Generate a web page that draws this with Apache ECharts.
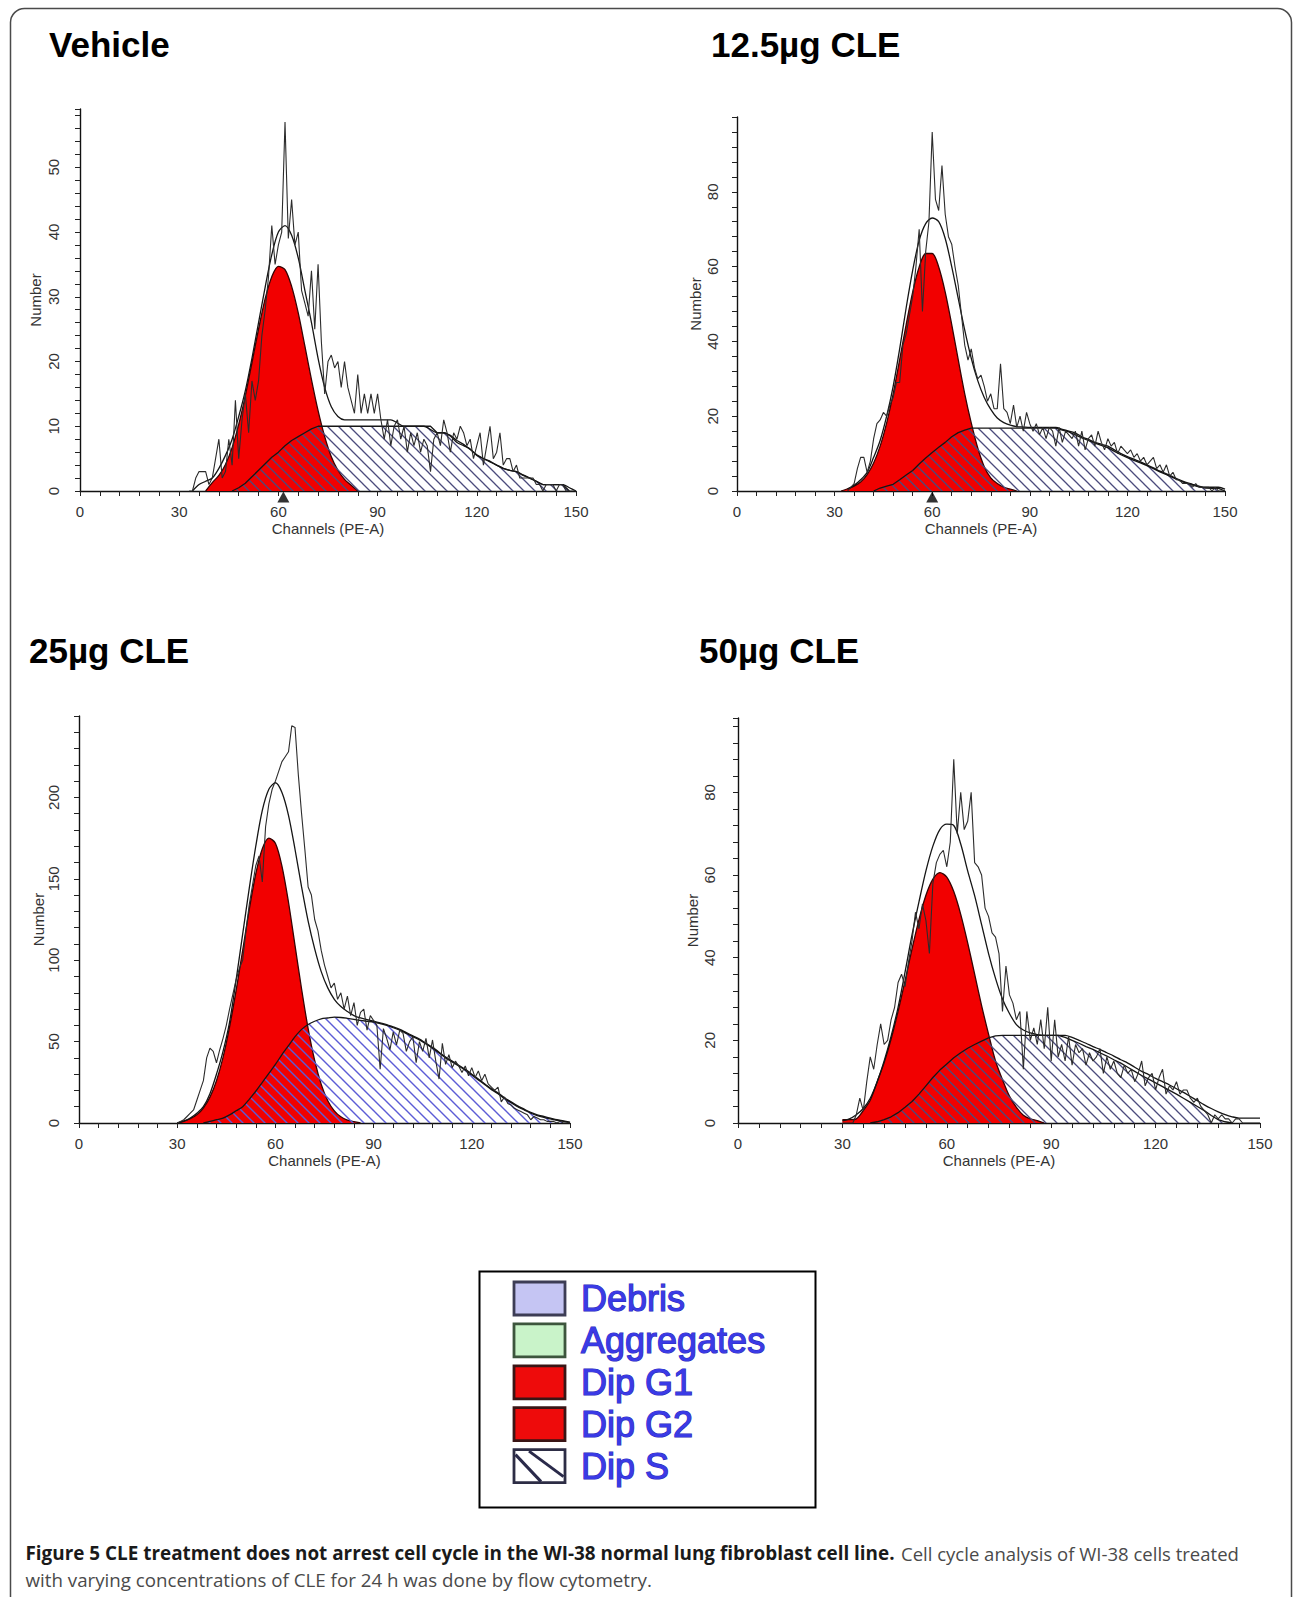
<!DOCTYPE html>
<html>
<head>
<meta charset="utf-8">
<title>Figure 5 – cell cycle histograms</title>
<script src="https://cdn.jsdelivr.net/npm/echarts@6/dist/echarts.min.js"></script>
<style>
  html, body { margin: 0; padding: 0; background: #fff; }
  #fig { width: 1293px; height: 1597px; }
</style>
</head>
<body>
<div id="fig"></div>
<script>
// ---- axis scales --------------------------------------------------------
const CHANNEL_MAX = 150;            // Channels (PE-A) runs 0..150
const CHANNEL_TICK = 6;             // a tick every 6 channels
const CHANNEL_LABEL_STEP = 30;      // labelled 0, 30, 60, 90, 120, 150
const Y_MAX = [59, 100, 250, 98];   // top of each "Number" axis
const Y_TICK = [2, 4, 10, 4];
const Y_LABEL_STEP = [10, 20, 50, 20];

const PANEL_TITLES = ['Vehicle', '12.5µg CLE', '25µg CLE', '50µg CLE'];
const LEGEND_ITEMS = ['Debris', 'Aggregates', 'Dip G1', 'Dip G2', 'Dip S'];
const CAPTION_BOLD = 'Figure 5 CLE treatment does not arrest cell cycle in the WI-38 normal lung fibroblast cell line.';
const CAPTION_TAIL = 'Cell cycle analysis of WI-38 cells treated';
const CAPTION_LINE2 = 'with varying concentrations of CLE for 24 h was done by flow cytometry.';

// ---- Vehicle ------------------------------------------------------------
const vehRawStart = 33;   // measured histogram, one value per channel
const vehRaw = [0,0,2,3,3,3,1,2,5,8,
  2,3,8,4,14,5,11,15,9,17,
  14,17,24,28,33,41,35,38,40,57,
  39,45,38,40,31,29,27,34,25,35,
  23,15,20,21,19,20,16,20,16,14,
  12,18,12,15,12,15,12,15,11,8,
  11,7,10,11,8,10,6,9,7,9,
  6,8,7,3,8,9,7,11,9,6,
  9,8,10,9,7,8,5,7,9,4,
  7,10,5,6,9,4,5,5,3,4,
  2,2,2,2,2,1,1,0,1,1,
  1,0,1,1,0,0,0,0];
const vehFitStart = 34;   // model curves, every 2nd channel
const vehFit = [0,1,1.5,2,3.5,5.5,8,11.5,15.5,20.5,
  26,31.5,36.5,40,41,39.5,36,31,26,20.5,
  16,13,11.5,11,11,11,11,11,11,11,
  11,10.5,10,10,10,10,9.5,9,9,8.5,
  7.5,7,6.5,5.5,5,4.5,4,3.5,3.2,3,
  2.5,2,1.5,1,1,1,1,0.5,0];
const vehG1Start = 38;
const vehG1 = [0,1.3,2.4,4.1,6.7,10.3,14.7,19.8,25,29.7,33.1,34.7,
  34.2,31.6,27.5,22.4,17.2,12.4,8.4,5.3,3.2,1.8,0.9,0];
const vehSStart = 46;
const vehS = [0,0.5,1.2,2.2,3.2,4.2,5.2,6,7,7.8,
  8.4,9,9.6,10,10,10,10,10,10,10,
  10,10,10,10,10,10,10,10,10,10,
  10,9,9,8.6,7.8,7.2,6.4,5.6,5,4.6,
  4,3.5,3.2,3,2.4,2,1.5,1,1,1,
  1,0];
const vehG1Mean = 61.5;

// ---- 12.5µg CLE ---------------------------------------------------------
const p125RawStart = 34;
const p125Raw = [0,1,2,6,9,9,5,8,14,18,
  19,21,20,23,25,29,29,39,42,47,
  52,60,70,48,64,72,96,78,75,87,
  74,68,66,60,55,47,39,35,38,33,
  30,31,28,24,26,22,22,34,22,21,
  18,23,17,20,16,21,18,16,18,15,
  17,14,17,16,12,17,13,16,15,14,
  16,12,16,11,14,15,12,16,13,11,
  14,12,13,10,12,11,10,11,9,10,
  8,9,7,8,9,6,7,5,7,4,
  5,3,3,2,2,2,1,2,1,1,
  1,1,0,1,0,0,0];
const p125FitStart = 34;
const p125Fit = [0.5,1.5,3,5,9,13.5,20,28,38,49,
  59,67,71.5,73,72,67.5,60,51.5,43,35.5,
  29.5,25,21.8,19.5,18.3,17.6,17.2,17.1,17,17,
  17,17,17,16.5,16,15.5,14.5,13.8,13,12.5,
  12,11,10,9.2,8.5,7.8,7,6.2,5.3,4.6,
  3.8,3,2.3,1.8,1.3,1,1,1,0.5];
const p125G1Start = 32;
const p125G1 = [0,0.6,1.3,2.4,4.4,7.5,12,18.2,26,35.1,44.5,53.2,59.9,63.5,
  63.5,59.9,53.2,44.5,35.1,26,18.2,11.5,6.5,3.5,2,1,0.5,0];
const p125SStart = 42;
const p125S = [0,0.8,1.3,1.8,3,4.3,5.5,7.2,8.8,10.3,
  11.7,13,14.5,15.6,16.3,16.8,16.8,16.8,16.8,16.8,
  16.8,16.8,16.8,16.8,16.8,16.8,16.8,16.8,16.8,16.3,
  15.8,15,14.2,13.5,12.8,12.2,11.6,10.6,9.7,8.9,
  8.2,7.5,6.8,6,5.1,4.4,3.6,2.8,2.1,1.6,
  1.1,0.8,0.7,0.7,0];
const p125G1Mean = 60;

// ---- 25µg CLE -----------------------------------------------------------
const p25RawStart = 30;
const p25Raw = [0,1,2,4,6,8,14,20,26,40,
  46,44,37,45,52,60,70,79,88,95,
  100,118,134,146,158,164,148,182,196,205,
  210,216,222,225,228,244,243,214,190,168,
  145,140,125,118,106,97,90,83,86,76,
  80,70,78,66,74,60,68,70,57,66,
  63,60,33,58,52,45,56,48,57,55,
  44,50,53,37,50,44,52,40,51,38,
  27,49,36,42,34,38,35,31,35,29,
  34,28,32,26,30,24,22,20,22,13,
  16,12,11,9,8,7,6,5,2,4,
  3,2,2,1,1,1,0,1,0,0,0];
const p25FitStart = 30;
const p25Fit = [0,1,3,6,10,18,30,44,62,88,
  116,144,170,192,205,209,203,189,168,145,
  124,107,93,83,76,71.5,68.5,66,64.5,63.5,
  62.5,61.5,60.5,59,57.5,55.5,53.5,51.5,49,46.5,
  43.5,40.5,38,35.5,33,30,27,24,21,18.5,
  15.5,13,10.5,8.5,6.5,5,4,3,2,1.3,
  0.5];
const p25G1Start = 30;
const p25G1 = [0,1.3,2.6,5,9.2,15.9,26,40.3,59,81.5,106,131,153,168.5,175,
  171.8,157.8,135.6,109,82.3,58,38.4,23.7,13.7,7.5,3.8,1.8,0.8,0];
const p25SStart = 38;
const p25S = [0,1,2,3,5,7.5,10,14.5,19.5,25,
  30.5,36,42,47.5,53,57.5,60.5,62.5,64,64.5,
  65,64.8,64.3,63.7,63,62.5,62,61,60,58.5,
  57,55,53,51,48.5,46,43,40,37.5,35,
  32.5,29.5,26.5,23.5,20.5,18,15,12.5,10,8,
  6,4.5,3.5,2.5,1.6,1,0];

// ---- 50µg CLE -----------------------------------------------------------
const p50RawStart = 30;
const p50Raw = [0,0,0,0,2,6,3,10,16,13,
  19,24,19,20,25,28,34,36,33,39,
  44,51,47,53,49,41,58,63,65,66,
  62,68,88,70,80,71,73,80,63,62,
  60,52,50,46,45,41,27,38,31,29,
  25,27,13,27,20,23,19,25,18,28,
  15,25,16,19,15,21,14,19,17,18,
  14,17,15,16,18,12,16,13,15,12,
  11,14,12,13,10,12,15,9,11,12,
  8,11,13,7,9,8,10,7,8,8,
  6,5,6,4,3,2,0,2,1,2,
  1,1,0,1,1,0,0,0,0,0,0];
const p50FitStart = 30;
const p50Fit = [0.5,1,2,3.5,6,10,15,21,28,36.5,
  45.5,53.5,61,67,71,72.3,72,67.5,61,55,
  48,41,35,30,26.5,23.8,22.5,21.8,21.4,21.2,
  21.2,21.2,21.2,20.7,20,19.3,18.5,17.8,17,16.2,
  15.3,14.5,13.5,12.5,11.7,10.8,10,9.2,8.3,7.4,
  6.4,5.4,4.4,3.5,2.7,2,1.5,1.2,1.2,1.2,
  1.2];
const p50G1Start = 30;
const p50G1 = [0.8,0.8,1,3,5.5,10,14.6,20.3,27,34.4,42.1,49.2,55.1,59,60.6,
  59.5,56,50.5,43.6,36,28.4,21.5,15,10.5,6.5,3.8,1.9,1,0.6,0];
const p50SStart = 38;
const p50S = [0,0.3,0.8,1.5,2.5,3.8,5.2,7,9,11,
  12.8,14.3,15.8,17,18.1,19,19.8,20.6,21.1,21.2,
  21.2,21.2,21.2,21.2,21.2,21.2,21.2,21.2,20.7,20,
  19.3,18.5,17.8,17,16.2,15.3,14.5,13.5,12.5,11.5,
  10.6,9.7,8.8,7.9,7,6,5,4,3,1.8,
  0.8,0.3,0];

// ---- drawing ------------------------------------------------------------
const pts = (start, step, vals) => vals.map((v, i) => [start + i * step, v]);

// diagonal "\" hatching used for the S-phase area
function hatchTile(color, size, width) {
  const c = document.createElement('canvas');
  c.width = size; c.height = size;
  const g = c.getContext('2d');
  g.strokeStyle = color; g.lineWidth = width;
  g.beginPath();
  g.moveTo(-1, -1); g.lineTo(size + 1, size + 1);
  g.moveTo(-1, size - 1); g.lineTo(1, size + 1);
  g.moveTo(size - 1, -1); g.lineTo(size + 1, 1);
  g.stroke();
  return { image: c, repeat: 'repeat' };
}
const hatchGrey = hatchTile('#4b4b7c', 11, 1.3);
const hatchBlue = hatchTile('#5c5cd6', 11, 1.4);

const panels = [
  { raw: pts(vehRawStart, 1, vehRaw), fit: pts(vehFitStart, 2, vehFit), g1: pts(vehG1Start, 2, vehG1),
    s: pts(vehSStart, 2, vehS), mark: vehG1Mean, hatch: hatchGrey, smoothS: false },
  { raw: pts(p125RawStart, 1, p125Raw), fit: pts(p125FitStart, 2, p125Fit), g1: pts(p125G1Start, 2, p125G1),
    s: pts(p125SStart, 2, p125S), mark: p125G1Mean, hatch: hatchGrey, smoothS: false },
  { raw: pts(p25RawStart, 1, p25Raw), fit: pts(p25FitStart, 2, p25Fit), g1: pts(p25G1Start, 2, p25G1),
    s: pts(p25SStart, 2, p25S), mark: null, hatch: hatchBlue, smoothS: 0.3 },
  { raw: pts(p50RawStart, 1, p50Raw), fit: pts(p50FitStart, 2, p50Fit), g1: pts(p50G1Start, 2, p50G1),
    s: pts(p50SStart, 2, p50S), mark: null, hatch: hatchGrey, smoothS: false }
];

const GRIDS = [
  { left: 80,  top: 109, width: 496, height: 382 },
  { left: 737, top: 117, width: 488, height: 374 },
  { left: 79,  top: 716, width: 491, height: 407 },
  { left: 738, top: 718, width: 522, height: 405 }
];
const NAME_GAP_Y = [37, 34, 33, 38];
const LABEL_MARGIN_Y = [19, 17, 18, 21];
const FONT = '"Liberation Sans", Arial, sans-serif';
const AXIS_TEXT = { fontFamily: FONT, fontSize: 15, color: '#333' };

const grid = [], xAxis = [], yAxis = [], series = [];
panels.forEach((p, i) => {
  grid.push(Object.assign({ outerBoundsMode: 'none', containLabel: false }, GRIDS[i]));
  xAxis.push({
    gridIndex: i, type: 'value', min: 0, max: CHANNEL_MAX, interval: CHANNEL_TICK,
    name: 'Channels (PE-A)', nameLocation: 'middle', nameGap: 30, nameMoveOverlap: false,
    nameTextStyle: AXIS_TEXT,
    axisLine: { onZero: false, lineStyle: { color: '#111', width: 1.4 } },
    axisTick: { length: 5, lineStyle: { color: '#222', width: 1 } },
    axisLabel: Object.assign({ margin: 13, formatter: v => (v % CHANNEL_LABEL_STEP === 0 ? String(v) : '') }, AXIS_TEXT),
    splitLine: { show: false }
  });
  yAxis.push({
    gridIndex: i, type: 'value', min: 0, max: Y_MAX[i], interval: Y_TICK[i],
    name: 'Number', nameLocation: 'middle', nameRotate: 90, nameGap: NAME_GAP_Y[i], nameMoveOverlap: false,
    nameTextStyle: AXIS_TEXT,
    axisLine: { show: true, lineStyle: { color: '#111', width: 1.4 } },
    axisTick: { show: true, length: 5, lineStyle: { color: '#222', width: 1 } },
    axisLabel: Object.assign({ rotate: 90, margin: LABEL_MARGIN_Y[i],
      formatter: v => (v % Y_LABEL_STEP[i] === 0 && v < Y_MAX[i] ? String(v) : '') }, AXIS_TEXT),
    splitLine: { show: false }
  });
  const base = { type: 'line', xAxisIndex: i, yAxisIndex: i, symbol: 'none', silent: true };
  series.push(Object.assign({}, base, {
    name: 'Dip G1', data: p.g1, smooth: 0.3, z: 2,
    lineStyle: { color: '#360404', width: 1.3 },
    areaStyle: { color: '#f20000', opacity: 1 }
  }));
  series.push(Object.assign({}, base, {
    name: 'Dip S', data: p.s, smooth: p.smoothS, z: 3,
    lineStyle: { color: '#161616', width: 1.3 },
    areaStyle: { color: p.hatch, opacity: 1 }
  }));
  series.push(Object.assign({}, base, {
    name: 'Model', data: p.fit, smooth: 0.3, z: 4,
    lineStyle: { color: '#151515', width: 1.3 }
  }));
  series.push(Object.assign({}, base, {
    name: 'Data', data: p.raw, z: 5,
    lineStyle: { color: '#2c2c2c', width: 1.1 }
  }));
  if (p.mark !== null) {
    series.push({
      type: 'scatter', xAxisIndex: i, yAxisIndex: i, data: [[p.mark, 0]], clip: false,
      symbol: 'triangle', symbolSize: [12, 11], symbolOffset: [0, 6], z: 6, silent: true,
      itemStyle: { color: '#000' }
    });
  }
});

// ---- titles, legend box, caption and frame -------------------------------
const graphics = [];
graphics.push({ type: 'rect', silent: true, z: 0,
  shape: { x: 10.5, y: 8.5, width: 1281, height: 1700, r: 14 },
  style: { fill: 'none', stroke: '#4a4a4a', lineWidth: 1.5 } });

const TITLE_POS = [[49, 44], [711, 44], [29, 650], [699, 650]];
PANEL_TITLES.forEach((t, i) => graphics.push({
  type: 'text', x: TITLE_POS[i][0], y: TITLE_POS[i][1], silent: true,
  style: { text: t, font: 'bold 35px ' + FONT, fill: '#000', align: 'left', verticalAlign: 'middle' }
}));

graphics.push({ type: 'rect', silent: true, shape: { x: 479.5, y: 1271.5, width: 336, height: 236 },
  style: { fill: '#fff', stroke: '#000', lineWidth: 2 } });
const SW_FILL = ['#c5c5f3', '#c9f3c9', '#ee0b0b', '#ee0b0b', '#ffffff'];
const SW_STROKE = ['#3d3d55', '#3d553d', '#3a1515', '#3a1515', '#2d2d45'];
LEGEND_ITEMS.forEach((name, k) => {
  const top = 1282 + k * 41.9;
  graphics.push({ type: 'rect', silent: true, shape: { x: 514, y: top, width: 51, height: 33 },
    style: { fill: SW_FILL[k], stroke: SW_STROKE[k], lineWidth: 2.8 } });
  graphics.push({ type: 'text', x: 581, y: top + 16.5, silent: true,
    style: { text: name, font: '36px ' + FONT, fill: '#3a3ae6', stroke: '#2c2cb8', lineWidth: 1.2,
      align: 'left', verticalAlign: 'middle' } });
  if (k === LEGEND_ITEMS.length - 1) {
    graphics.push({ type: 'line', silent: true, shape: { x1: 515.5, y1: top + 5, x2: 541, y2: top + 32 },
      style: { stroke: '#2a2a4a', lineWidth: 3 } });
    graphics.push({ type: 'line', silent: true, shape: { x1: 529, y1: top + 1.5, x2: 563.5, y2: top + 27 },
      style: { stroke: '#2a2a4a', lineWidth: 3 } });
  }
});

// caption set in a condensed width
const measure = document.createElement('canvas').getContext('2d');
function widthOf(text, font) { measure.font = font; return measure.measureText(text).width; }
const CAP_FONT = '19px "Open Sans", "Liberation Sans", sans-serif';
const CAP_BOLD = 'bold ' + CAP_FONT;
function captionText(text, font, x, y, targetW, color) {
  graphics.push({ type: 'text', x: x, y: y, scaleX: targetW / widthOf(text, font), silent: true,
    style: { text: text, font: font, fill: color, align: 'left', verticalAlign: 'middle' } });
}
captionText(CAPTION_BOLD, CAP_BOLD, 25.5, 1553, 869.5, '#1a1a1a');
captionText(CAPTION_TAIL, CAP_FONT, 901, 1553, 338, '#4a4a4a');
captionText(CAPTION_LINE2, CAP_FONT, 25.5, 1580, 627, '#4a4a4a');

const chart = echarts.init(document.getElementById('fig'), null, { renderer: 'svg', width: 1293, height: 1597 });
chart.setOption({
  animation: false,
  backgroundColor: '#fff',
  grid: grid, xAxis: xAxis, yAxis: yAxis, series: series,
  graphic: graphics
});
</script>
</body>
</html>
